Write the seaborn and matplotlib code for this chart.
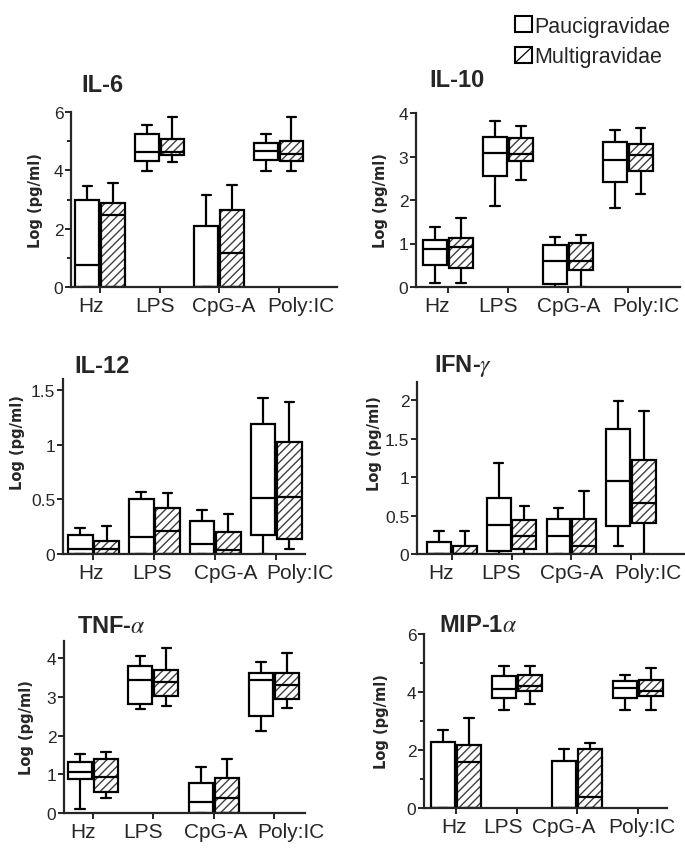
import matplotlib
matplotlib.use("Agg")
import matplotlib.pyplot as plt
from matplotlib.patches import Patch, PathPatch, Rectangle
from matplotlib.lines import Line2D
from matplotlib.legend_handler import HandlerPatch
from matplotlib.ticker import MultipleLocator, FuncFormatter
from matplotlib.transforms import ScaledTranslation
import seaborn as sns

sns.set_style("ticks")
plt.rcParams["font.family"] = ["Liberation Sans", "DejaVu Sans"]
plt.rcParams["mathtext.fontset"] = "stix"
plt.rcParams["hatch.linewidth"] = 1.0

stimuli = ["Hz", "LPS", "CpG-A", "Poly:IC"]
groups = ["Paucigravidae", "Multigravidae"]

# each row: whisker low, q1, median, q3, whisker high (one row per stimulus)
il6_pauci = [[0, 0, 0.76, 3.0, 3.47], [3.98, 4.31, 4.62, 5.24, 5.54],
             [0, 0, 0, 2.1, 3.17], [3.98, 4.37, 4.68, 4.94, 5.26]]
il6_multi = [[0, 0, 2.48, 2.87, 3.55], [4.3, 4.51, 4.64, 5.07, 5.83],
             [0, 0, 1.15, 2.65, 3.51], [3.98, 4.31, 4.56, 4.99, 5.83]]

il10_pauci = [[0.1, 0.5, 0.87, 1.09, 1.38], [1.87, 2.56, 3.08, 3.45, 3.82],
              [0, 0.08, 0.59, 0.96, 1.15], [1.81, 2.41, 2.93, 3.34, 3.61]]
il10_multi = [[0.1, 0.44, 0.91, 1.13, 1.59], [2.47, 2.89, 3.05, 3.42, 3.71],
              [0, 0.38, 0.59, 1.02, 1.19], [2.13, 2.66, 3.03, 3.29, 3.65]]

il12_pauci = [[0, 0, 0.043, 0.17, 0.24], [0, 0, 0.155, 0.5, 0.57],
              [0, 0, 0.088, 0.3, 0.4], [0, 0.17, 0.51, 1.19, 1.43]]
il12_multi = [[0, 0, 0.05, 0.12, 0.26], [0, 0, 0.21, 0.42, 0.56],
              [0, 0, 0.04, 0.2, 0.37], [0.05, 0.14, 0.52, 1.02, 1.39]]

ifn_pauci = [[0, 0, 0, 0.15, 0.3], [0, 0.035, 0.38, 0.73, 1.19],
             [0, 0, 0.23, 0.46, 0.6], [0.1, 0.37, 0.95, 1.63, 1.99]]
ifn_multi = [[0, 0, 0, 0.1, 0.3], [0, 0.07, 0.24, 0.44, 0.62],
             [0, 0, 0.1, 0.45, 0.82], [0, 0.4, 0.67, 1.23, 1.86]]

tnf_pauci = [[0.1, 0.88, 1.05, 1.31, 1.52], [2.68, 2.83, 3.43, 3.8, 4.06],
             [0, 0, 0.275, 0.78, 1.2], [2.12, 2.51, 3.44, 3.62, 3.91]]
tnf_multi = [[0.38, 0.55, 0.94, 1.39, 1.58], [2.77, 3.02, 3.4, 3.69, 4.28],
             [0, 0, 0.38, 0.9, 1.39], [2.71, 2.96, 3.3, 3.62, 4.13]]

mip_pauci = [[0, 0, 0, 2.29, 2.7], [3.37, 3.8, 4.11, 4.54, 4.91],
             [0, 0, 0, 1.61, 2.04], [3.37, 3.8, 4.15, 4.39, 4.57]]
mip_multi = [[0, 0, 1.58, 2.18, 3.11], [3.58, 4.03, 4.22, 4.59, 4.91],
             [0, 0, 0.37, 2.04, 2.25], [3.37, 3.85, 4.05, 4.43, 4.83]]

titles = ["IL-6", "IL-10", "IL-12", r"IFN-$\gamma$", r"TNF-$\alpha$", r"MIP-1$\alpha$"]

LW = 1.6
W, H = 685, 853

# layout: axes box in pixels (left, top, right, bottom), xlim, ylim top, tick steps,
# title baseline position, y-label position, horizontal shift of x tick labels (px)
panels = [
    dict(pauci=il6_pauci, multi=il6_multi, box=(71, 113, 337, 288), xlim=(-0.49, 3.98),
         ytop=6, major=2, minor=1, title_xy=(81, 92), ylab=(-0.135, 0.5),
         shift=(-9, -5, 5, 22)),
    dict(pauci=il10_pauci, multi=il10_multi, box=(416, 114, 680, 288), xlim=(-0.53, 3.87),
         ytop=4, major=1, minor=None, title_xy=(429, 87), ylab=(-0.136, 0.5),
         shift=(-11, -10, 1, 18)),
    dict(pauci=il12_pauci, multi=il12_multi, box=(63, 380, 305, 555), xlim=(-0.5, 3.47),
         ytop=1.6, major=0.5, minor=None, title_xy=(74, 373), ylab=(-0.19, 0.64),
         shift=(-2, -2, 10, 24)),
    dict(pauci=ifn_pauci, multi=ifn_multi, box=(417, 383, 685, 555), xlim=(-0.58, 3.9),
         ytop=2.24, major=0.5, minor=None, title_xy=(434, 372), ylab=(-0.157, 0.65),
         shift=(-11, -10, 0, 17)),
    dict(pauci=tnf_pauci, multi=tnf_multi, box=(64, 642, 305, 814), xlim=(-0.48, 3.51),
         ytop=4.45, major=1, minor=None, title_xy=(77, 633), ylab=(-0.154, 0.5),
         shift=(-10, -10, 2, 17)),
    dict(pauci=mip_pauci, multi=mip_multi, box=(424, 635, 667, 809), xlim=(-0.53, 3.48),
         ytop=6, major=2, minor=1, title_xy=(439, 632), ylab=(-0.173, 0.5),
         shift=(-2, -14, -14, 4)),
]


class DiagonalBox(HandlerPatch):
    # legend key: open square crossed by a single diagonal stroke
    def create_artists(self, legend, orig, xd, yd, w, h, fontsize, trans):
        rect = Rectangle((-xd, -yd), w, h, facecolor="white", edgecolor="black",
                         linewidth=1.5, transform=trans)
        diag = Line2D([-xd + 1, -xd + w - 1], [-yd + 1, -yd + h - 1], color="black",
                      linewidth=0.9, transform=trans)
        return [rect, diag]


fig = plt.figure(figsize=(W / 100, H / 100), dpi=100)

line = dict(color="black", linewidth=LW)

for title, p in zip(titles, panels):
    l, t, r, b = p["box"]
    ax = fig.add_axes([l / W, 1 - b / H, (r - l) / W, (b - t) / H])
    for vals, off, hatched in ((p["pauci"], -0.215, False), (p["multi"], 0.215, True)):
        stats = [dict(whislo=w0, q1=q1, med=m, q3=q3, whishi=w1, fliers=[])
                 for w0, q1, m, q3, w1 in vals]
        pos = [i + off for i in range(len(vals))]
        bp = ax.bxp(stats, positions=pos, widths=0.4, patch_artist=True, showfliers=False,
                    capwidths=0.16, manage_ticks=False,
                    boxprops=dict(facecolor="white", edgecolor="black", linewidth=LW),
                    medianprops=line, whiskerprops=line, capprops=line)
        if hatched:
            for bx in bp["boxes"]:
                bx.set_edgecolor("#404040")
                bx.set_hatch("////")
                bx.set_linewidth(0)
                ax.add_patch(PathPatch(bx.get_path(), facecolor="none", edgecolor="black",
                                       linewidth=LW, zorder=bx.get_zorder()))
            for med in bp["medians"]:
                med.set_zorder(3)
    ax.set_xlim(*p["xlim"])
    ax.set_ylim(0, p["ytop"])
    ax.set_xticks(range(len(stimuli)))
    ax.set_xticklabels(stimuli, fontsize=15)
    ax.yaxis.set_major_locator(MultipleLocator(p["major"]))
    if p["minor"]:
        ax.yaxis.set_minor_locator(MultipleLocator(p["minor"]))
    ax.yaxis.set_major_formatter(FuncFormatter(lambda v, _: "%g" % v))
    ax.tick_params(axis="y", labelsize=12.5, length=4.5, width=1.4, pad=1, direction="out")
    ax.tick_params(axis="y", which="minor", length=3, width=1.4)
    ax.tick_params(axis="x", length=4.5, width=1.4, pad=2, direction="out")
    for lab, dx in zip(ax.get_xticklabels(), p["shift"]):
        lab.set_transform(lab.get_transform() + ScaledTranslation(dx / 100, 0, fig.dpi_scale_trans))
    sns.despine(ax=ax)
    for s in ("left", "bottom"):
        ax.spines[s].set_linewidth(1.6)
    ax.set_ylabel("Log (pg/ml)", fontsize=10.5, fontweight="bold", family="DejaVu Sans")
    ax.yaxis.label.set_va("center")
    ax.yaxis.set_label_coords(*p["ylab"])
    tx, ty = p["title_xy"]
    fig.text(tx / W, 1 - ty / H, title, fontsize=17, fontweight="bold", va="baseline")

handles = [Patch(facecolor="white", edgecolor="black", linewidth=1.5),
           Patch(facecolor="white", edgecolor="black", linewidth=1.5)]
fig.legend(handles, groups, loc="upper right", bbox_to_anchor=(679 / W, 1 - 8 / H),
           frameon=False, fontsize=15.5, handlelength=0.8, handleheight=0.8,
           handletextpad=0.1, labelspacing=0.45, borderaxespad=0,
           handler_map={handles[1]: DiagonalBox()})

fig.savefig("out.png", dpi=100)
